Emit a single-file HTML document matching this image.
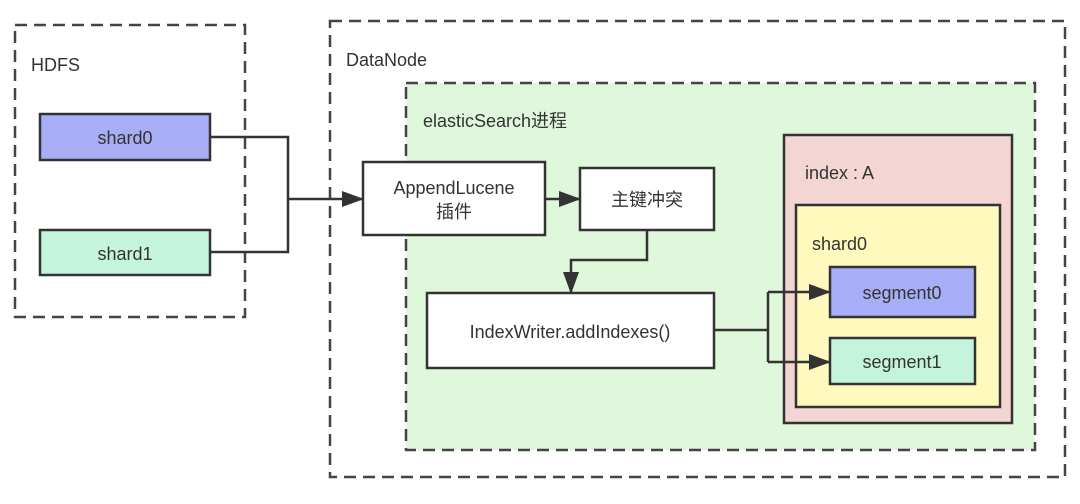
<!DOCTYPE html>
<html><head><meta charset="utf-8"><style>
html,body{margin:0;padding:0;background:#fff;}
svg{display:block;}
text{font-family:"Liberation Sans","Noto Sans CJK SC",sans-serif;font-size:18px;fill:#333;}
</style></head><body>
<svg width="1080" height="504" viewBox="0 0 1080 504" xmlns="http://www.w3.org/2000/svg">
<defs><marker id="b" markerWidth="22" markerHeight="16" refX="21" refY="8" orient="auto" markerUnits="userSpaceOnUse"><path d="M0,0 L22,8 L0,16 z" fill="#333"/></marker></defs>
<g fill="none" stroke="#444" stroke-width="2.5" stroke-dasharray="12,7">
<rect x="15" y="25" width="230" height="292"/>
<rect x="330" y="21" width="735" height="456"/>
</g>
<rect x="406" y="83" width="629" height="367" fill="#dff7db" stroke="#444" stroke-width="2.5" stroke-dasharray="12,7"/>
<text x="31" y="71">HDFS</text>
<text x="346" y="66">DataNode</text>
<text x="423" y="127">elasticSearch进程</text>
<rect x="40" y="114" width="170" height="46" fill="#a8aef5" stroke="#333" stroke-width="2.5"/>
<text x="125" y="144" text-anchor="middle">shard0</text>
<rect x="40" y="230" width="170" height="45" fill="#c4f5dc" stroke="#333" stroke-width="2.5"/>
<text x="125" y="260" text-anchor="middle">shard1</text>
<g fill="none" stroke="#333" stroke-width="2.5">
<polyline points="210,137 288,137 288,252 210,252"/>
<line x1="288" y1="199" x2="363" y2="199" marker-end="url(#b)"/>
<line x1="545" y1="199" x2="580" y2="199" marker-end="url(#b)"/>
<polyline points="647,230 647,260 571,260 571,293" marker-end="url(#b)"/>
<polyline points="714,330 768,330"/>
<polyline points="768,292 768,362"/>
</g>
<rect x="363" y="162" width="182" height="73" fill="#fff" stroke="#333" stroke-width="2.5"/>
<text x="454" y="194" text-anchor="middle">AppendLucene</text>
<text x="454" y="218" text-anchor="middle">插件</text>
<rect x="580" y="168" width="134" height="62" fill="#fff" stroke="#333" stroke-width="2.5"/>
<text x="647" y="206" text-anchor="middle">主键冲突</text>
<rect x="427" y="293" width="287" height="75" fill="#fff" stroke="#333" stroke-width="2.5"/>
<text x="570" y="338" text-anchor="middle">IndexWriter.addIndexes()</text>
<rect x="784" y="135" width="228" height="288" fill="#f3d6d4" stroke="#333" stroke-width="2.5"/>
<text x="805" y="179">index : A</text>
<rect x="796" y="205" width="204" height="202" fill="#fff9bd" stroke="#333" stroke-width="2.5"/>
<text x="812" y="250">shard0</text>
<g fill="none" stroke="#333" stroke-width="2.5">
<line x1="768" y1="292" x2="830" y2="292" marker-end="url(#b)"/>
<line x1="768" y1="362" x2="830" y2="362" marker-end="url(#b)"/>
</g>
<rect x="830" y="267" width="145" height="50" fill="#a8aef5" stroke="#333" stroke-width="2.5"/>
<text x="902" y="299" text-anchor="middle">segment0</text>
<rect x="830" y="338" width="145" height="46" fill="#c4f5dc" stroke="#333" stroke-width="2.5"/>
<text x="902" y="368" text-anchor="middle">segment1</text>
</svg>
</body></html>
